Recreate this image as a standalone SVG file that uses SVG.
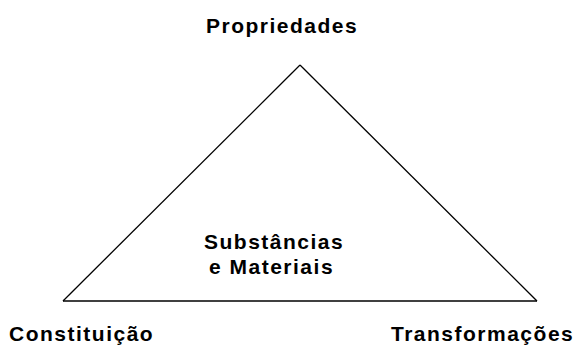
<svg xmlns="http://www.w3.org/2000/svg" width="578" height="347" viewBox="0 0 578 347">
<style>
text{font-family:"Liberation Sans",Arial,sans-serif;font-weight:bold;font-size:21px;fill:#000;letter-spacing:1.5px}
.edge{stroke:#000;stroke-width:1.3;fill:none}
</style>
<rect width="578" height="347" fill="#fff"/>
<g id="connectors">
<line class="edge" x1="300" y1="65" x2="63" y2="301"/>
<line class="edge" x1="300" y1="65" x2="537" y2="301"/>
<line class="edge" x1="63" y1="301" x2="537" y2="301"/>
</g>
<g id="node-propriedades"><text x="206" y="33">Propriedades</text></g>
<g id="node-constituicao"><text x="9" y="341">Constituição</text></g>
<g id="node-transformacoes"><text x="391" y="341">Transformações</text></g>
<g id="node-substancias"><text x="204" y="249">Substâncias</text><text x="209" y="274">e Materiais</text></g>
</svg>
